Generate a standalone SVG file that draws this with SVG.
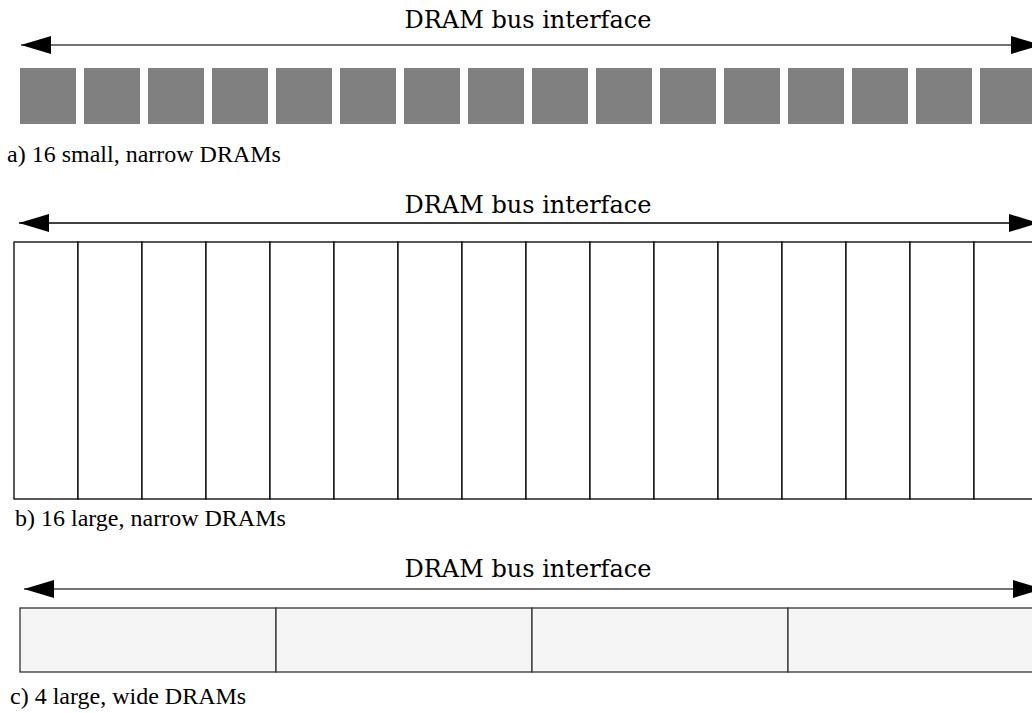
<svg xmlns="http://www.w3.org/2000/svg" width="1032" height="713" viewBox="0 0 1032 713">
<style>
.title{font-family:"DejaVu Serif","Liberation Serif",serif;font-size:24px;fill:#000;text-anchor:middle}
.cap{font-family:"Liberation Serif","Times New Roman",serif;font-size:24px;fill:#000}
.sq{fill:#808080}
.nb{fill:#fff;stroke:#000;stroke-width:1.3}
.wc{fill:#f5f5f5;stroke:#333;stroke-width:1.3}
.bus{stroke:#444;stroke-width:1.6;fill:none;marker-start:url(#ah);marker-end:url(#ah)}
</style>
<defs>
<marker id="ah" viewBox="0 0 30 18" refX="30" refY="9" markerWidth="30" markerHeight="18" markerUnits="userSpaceOnUse" orient="auto-start-reverse">
<path d="M0,0 L30,9 L0,18 z" fill="#000"/>
</marker>
</defs>
<rect width="1032" height="713" fill="#fff"/>
<g id="connectors">
<line class="bus" x1="21" y1="45" x2="1041" y2="45"/>
<line class="bus" x1="19" y1="223" x2="1039" y2="223" style="stroke:#000;stroke-width:1.3"/>
<line class="bus" x1="24" y1="589" x2="1043" y2="589"/>
</g>
<text class="title" x="528" y="28">DRAM bus interface</text>
<text class="title" x="528" y="213">DRAM bus interface</text>
<text class="title" x="528" y="577">DRAM bus interface</text>
<g id="a-drams">
<g id="a1"><rect class="sq" x="20" y="68" width="56" height="56"/></g>
<g id="a2"><rect class="sq" x="84" y="68" width="56" height="56"/></g>
<g id="a3"><rect class="sq" x="148" y="68" width="56" height="56"/></g>
<g id="a4"><rect class="sq" x="212" y="68" width="56" height="56"/></g>
<g id="a5"><rect class="sq" x="276" y="68" width="56" height="56"/></g>
<g id="a6"><rect class="sq" x="340" y="68" width="56" height="56"/></g>
<g id="a7"><rect class="sq" x="404" y="68" width="56" height="56"/></g>
<g id="a8"><rect class="sq" x="468" y="68" width="56" height="56"/></g>
<g id="a9"><rect class="sq" x="532" y="68" width="56" height="56"/></g>
<g id="a10"><rect class="sq" x="596" y="68" width="56" height="56"/></g>
<g id="a11"><rect class="sq" x="660" y="68" width="56" height="56"/></g>
<g id="a12"><rect class="sq" x="724" y="68" width="56" height="56"/></g>
<g id="a13"><rect class="sq" x="788" y="68" width="56" height="56"/></g>
<g id="a14"><rect class="sq" x="852" y="68" width="56" height="56"/></g>
<g id="a15"><rect class="sq" x="916" y="68" width="56" height="56"/></g>
<g id="a16"><rect class="sq" x="980" y="68" width="56" height="56"/></g>
</g>
<text class="cap" x="7" y="162">a) 16 small, narrow DRAMs</text>
<g id="b-drams">
<g id="b1"><rect class="nb" x="14" y="242" width="64" height="257"/></g>
<g id="b2"><rect class="nb" x="78" y="242" width="64" height="257"/></g>
<g id="b3"><rect class="nb" x="142" y="242" width="64" height="257"/></g>
<g id="b4"><rect class="nb" x="206" y="242" width="64" height="257"/></g>
<g id="b5"><rect class="nb" x="270" y="242" width="64" height="257"/></g>
<g id="b6"><rect class="nb" x="334" y="242" width="64" height="257"/></g>
<g id="b7"><rect class="nb" x="398" y="242" width="64" height="257"/></g>
<g id="b8"><rect class="nb" x="462" y="242" width="64" height="257"/></g>
<g id="b9"><rect class="nb" x="526" y="242" width="64" height="257"/></g>
<g id="b10"><rect class="nb" x="590" y="242" width="64" height="257"/></g>
<g id="b11"><rect class="nb" x="654" y="242" width="64" height="257"/></g>
<g id="b12"><rect class="nb" x="718" y="242" width="64" height="257"/></g>
<g id="b13"><rect class="nb" x="782" y="242" width="64" height="257"/></g>
<g id="b14"><rect class="nb" x="846" y="242" width="64" height="257"/></g>
<g id="b15"><rect class="nb" x="910" y="242" width="64" height="257"/></g>
<g id="b16"><rect class="nb" x="974" y="242" width="64" height="257"/></g>
</g>
<text class="cap" x="15" y="526">b) 16 large, narrow DRAMs</text>
<g id="c-drams">
<g id="c1"><rect class="wc" x="20" y="608" width="256" height="64"/></g>
<g id="c2"><rect class="wc" x="276" y="608" width="256" height="64"/></g>
<g id="c3"><rect class="wc" x="532" y="608" width="256" height="64"/></g>
<g id="c4"><rect class="wc" x="788" y="608" width="256" height="64"/></g>
</g>
<text class="cap" x="10" y="704">c) 4 large, wide DRAMs</text>
</svg>
